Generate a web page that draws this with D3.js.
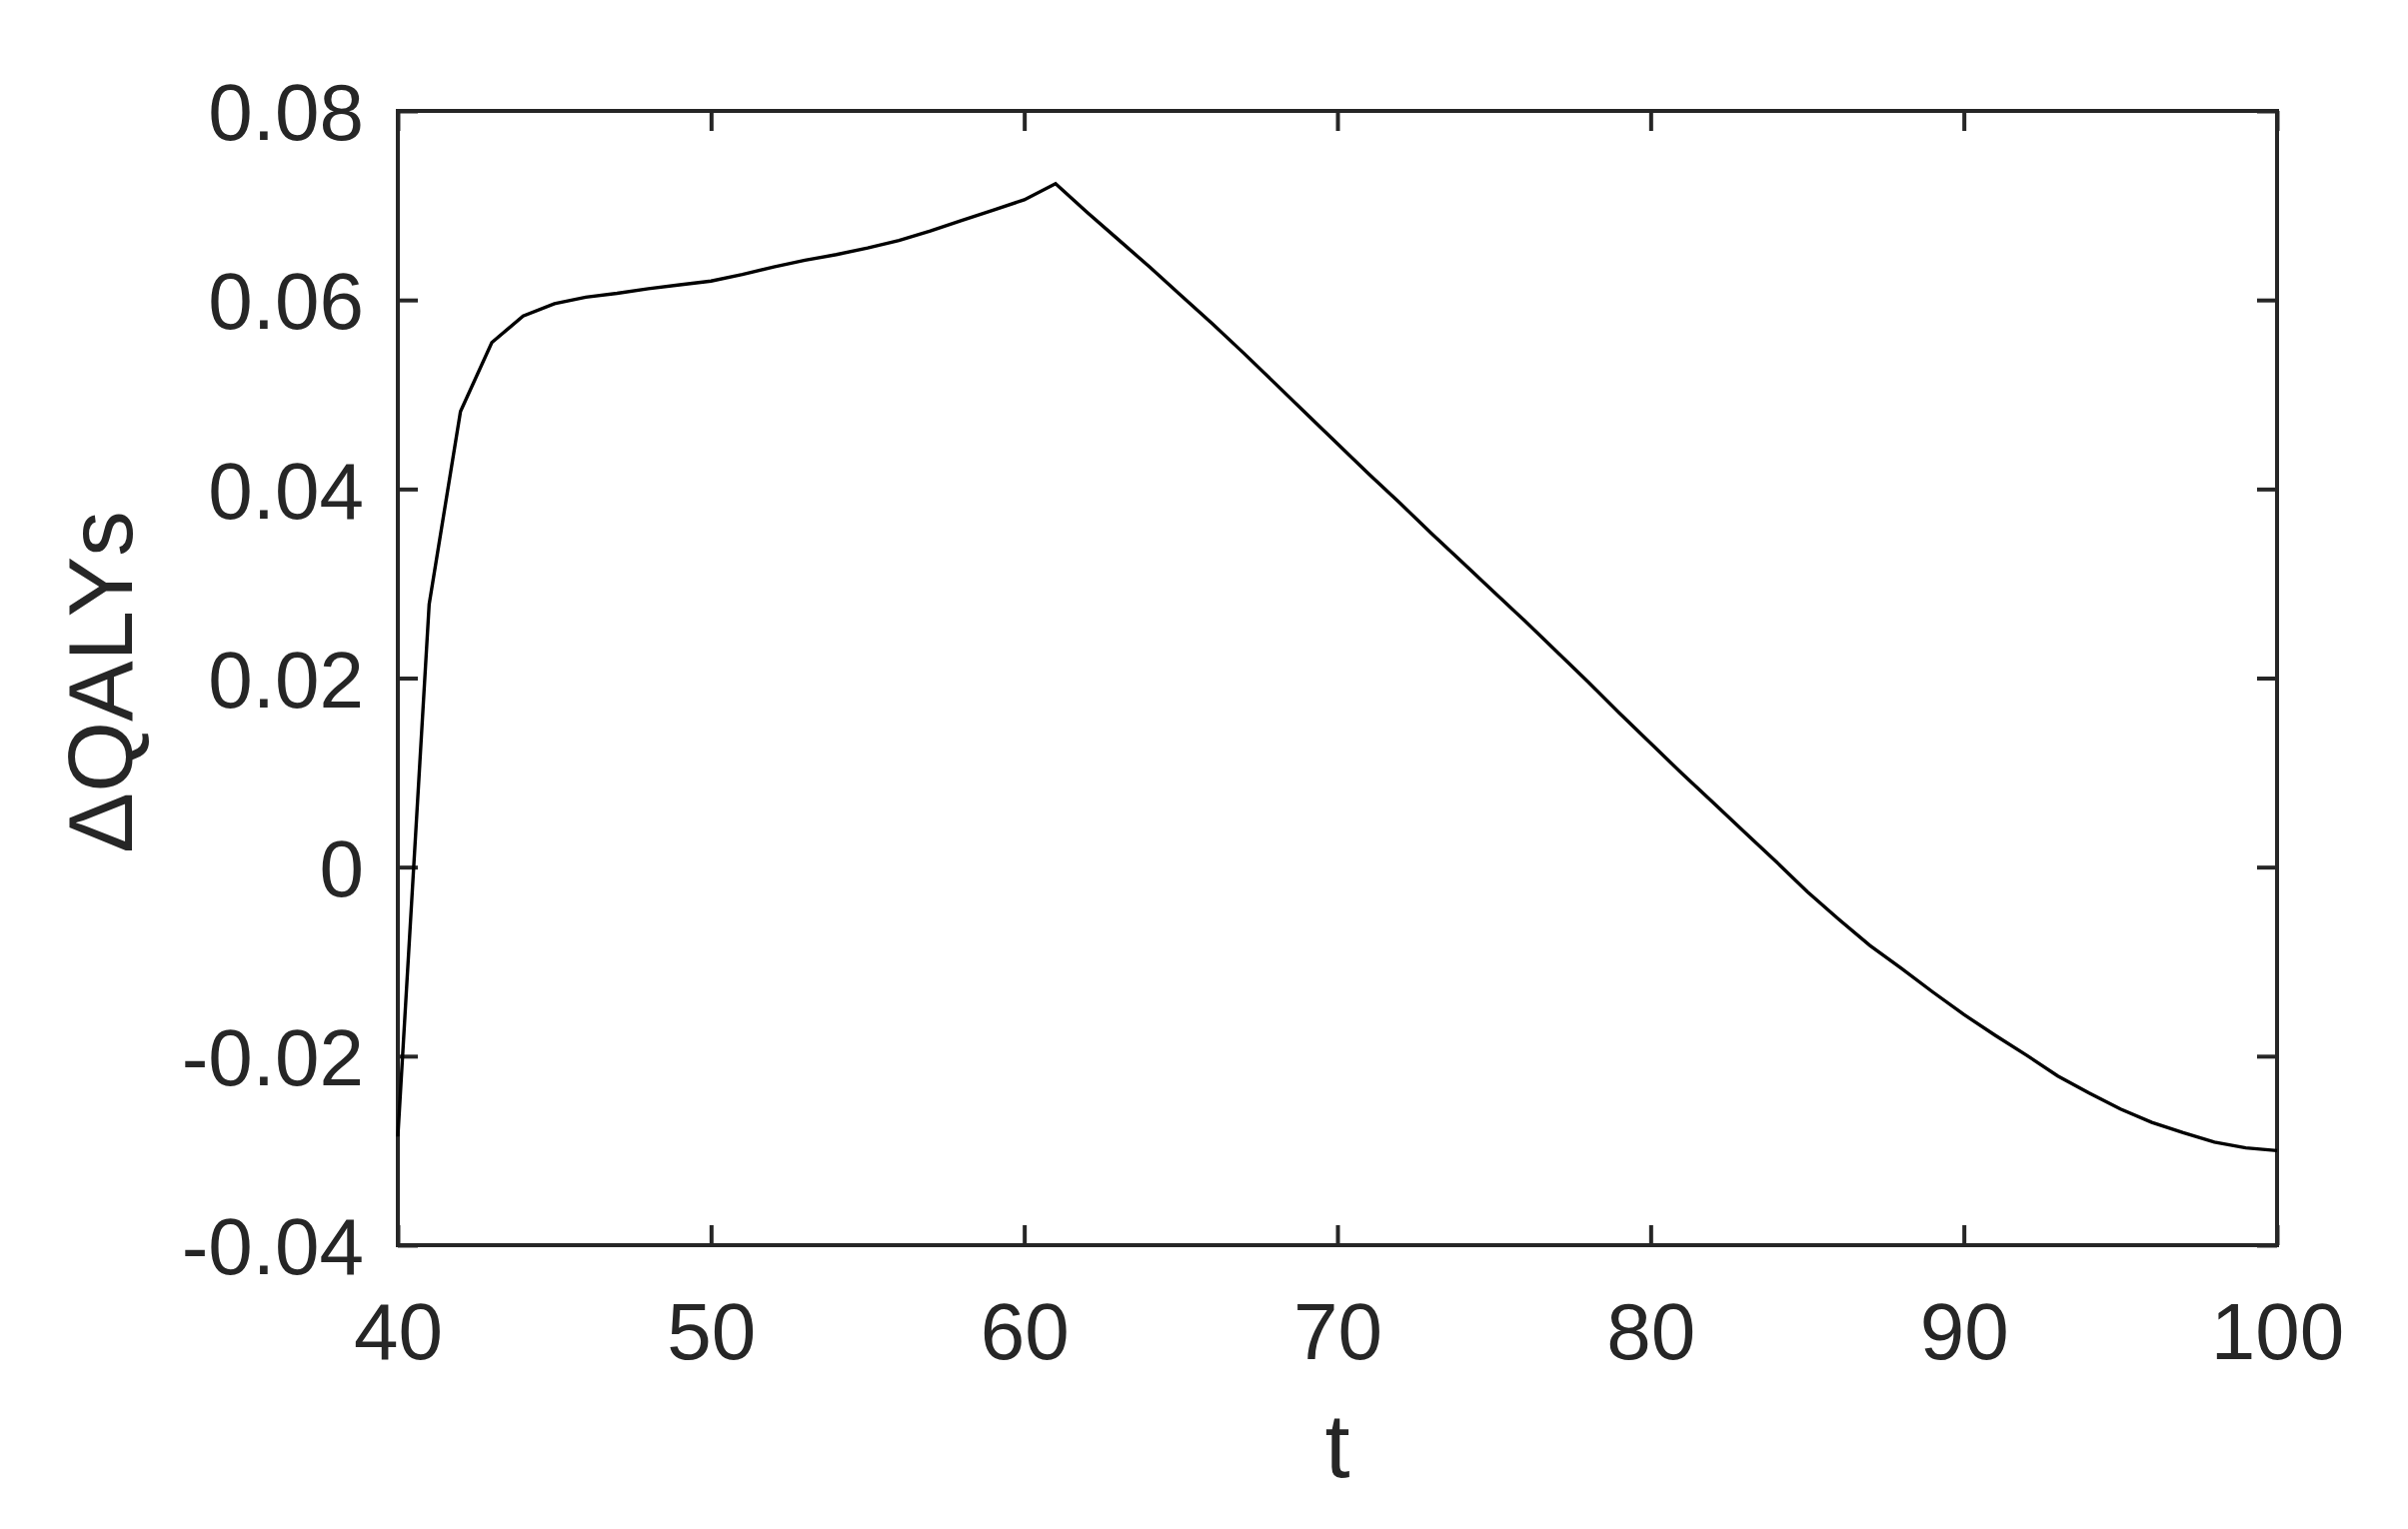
<!DOCTYPE html>
<html>
<head>
<meta charset="utf-8">
<script src="https://cdn.jsdelivr.net/npm/d3@7"></script>
<style>
  html, body { margin: 0; padding: 0; background: #fff; }
  svg { display: block; font-family: "Liberation Sans", Arial, Helvetica, sans-serif; }
</style>
</head>
<body>
<svg id="chart" width="2409" height="1530"></svg>
<script>
// age t (years)
const ages = d3.range(40, 101);

// change in QALYs, one value per age
const dQaly = [
  -0.0285, 0.0278, 0.0482, 0.0555, 0.0583, 0.0596, 0.0603, 0.0607, 0.0612, 0.0616,
   0.0620, 0.0627, 0.0635, 0.0642, 0.0648, 0.0655, 0.0663, 0.0673, 0.0684, 0.0695,
   0.0706, 0.0723, 0.0693, 0.0664, 0.0635, 0.0605, 0.0575, 0.0544, 0.0512, 0.0480,
   0.0448, 0.0416, 0.0385, 0.0353, 0.0322, 0.0291, 0.0260, 0.0228, 0.0196, 0.0163,
   0.0131, 0.0099, 0.0068, 0.0037, 0.0006, -0.0026, -0.0055, -0.0083, -0.0107, -0.0132,
  -0.0156, -0.0178, -0.0199, -0.0221, -0.0239, -0.0256, -0.0270, -0.0281, -0.0291, -0.0297,
  -0.0300
];

const xTicks = [40, 50, 60, 70, 80, 90, 100];
const yTicks = [-0.04, -0.02, 0, 0.02, 0.04, 0.06, 0.08];
const yTickLabels = ["-0.04", "-0.02", "0", "0.02", "0.04", "0.06", "0.08"];

const box = {left: 398, right: 2278, top: 111, bottom: 1246};
const ink = "#262626";

const svg = d3.select("#chart");

const x = d3.scaleLinear().domain([40, 100]).range([box.left, box.right]);
const y = d3.scaleLinear().domain([-0.04, 0.08]).range([box.bottom, box.top]);

// axes, ticks pointing inward like the original
const styleAxis = (g, size) => {
  g.select(".domain").remove();
  g.selectAll(".tick line").attr("stroke", ink).attr("stroke-width", 4);
  g.selectAll(".tick text")
    .attr("fill", ink)
    .style("font-size", size + "px")
    .style("font-family", "\"Liberation Sans\", Arial, sans-serif");
};

svg.append("g")
  .attr("transform", `translate(0,${box.bottom})`)
  .call(d3.axisBottom(x).tickValues(xTicks).tickSize(-20).tickPadding(57))
  .call(g => styleAxis(g, 80));

svg.append("g")
  .attr("transform", `translate(0,${box.top})`)
  .call(d3.axisTop(x).tickValues(xTicks).tickSize(-20).tickFormat(""))
  .call(g => styleAxis(g, 80));

svg.append("g")
  .attr("transform", `translate(${box.left},0)`)
  .call(d3.axisLeft(y).tickValues(yTicks).tickSize(-20).tickPadding(34)
    .tickFormat((d, i) => yTickLabels[i]))
  .call(g => styleAxis(g, 80))
  .call(g => g.selectAll(".tick text").attr("dy", "0.36em"));

svg.append("g")
  .attr("transform", `translate(${box.right},0)`)
  .call(d3.axisRight(y).tickValues(yTicks).tickSize(-20).tickFormat(""))
  .call(g => styleAxis(g, 80));

// plot frame
svg.append("rect")
  .attr("x", box.left).attr("y", box.top)
  .attr("width", box.right - box.left)
  .attr("height", box.bottom - box.top)
  .attr("fill", "none")
  .attr("stroke", ink)
  .attr("stroke-width", 4);

// the curve
const line = d3.line()
  .x((d, i) => x(ages[i]))
  .y(d => y(d));

svg.append("path")
  .datum(dQaly)
  .attr("d", line)
  .attr("fill", "none")
  .attr("stroke", "#000")
  .attr("stroke-width", 3.4)
  .attr("stroke-linejoin", "miter");

// axis titles
svg.append("text")
  .attr("x", (box.left + box.right) / 2)
  .attr("y", 1478)
  .attr("text-anchor", "middle")
  .attr("fill", ink)
  .style("font-size", "90px")
  .text("t");

svg.append("text")
  .attr("transform", `translate(132,${(box.top + box.bottom) / 2 + 4}) rotate(-90)`)
  .attr("text-anchor", "middle")
  .attr("fill", ink)
  .style("font-size", "91px")
  .text("ΔQALYs");
</script>
</body>
</html>
